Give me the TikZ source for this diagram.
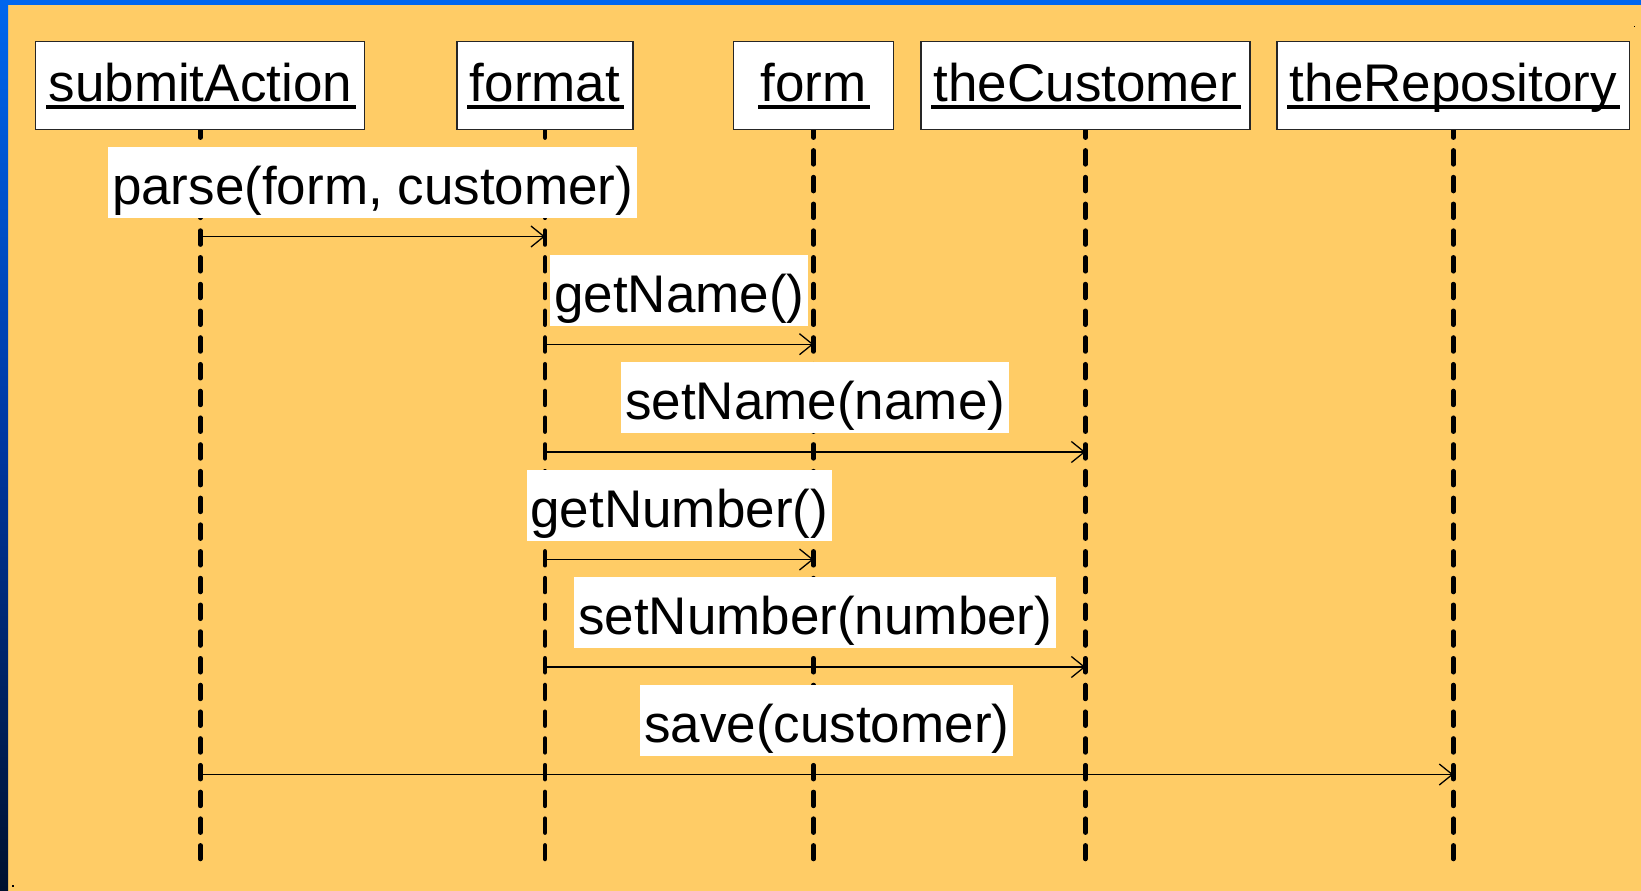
\documentclass[tikz,border=0pt]{standalone}
\usepackage{fontspec}
\setmainfont{Liberation Sans}
\usetikzlibrary{arrows.meta}

\definecolor{slidebg}{HTML}{FFCC66}
\definecolor{framehi}{HTML}{0066EE}
\definecolor{framemid}{HTML}{0036A0}
\definecolor{framelo}{HTML}{00102E}

% underlined object name, rule a little wider than the word
\newcommand\objname[1]{\setbox0\hbox{#1}\rlap{\kern-2.5pt\vrule width\dimexpr\wd0+6pt\relax height -3.8pt depth 7.5pt}\box0}

\pgfdeclarelayer{slide}
\pgfdeclarelayer{back}
\pgfsetlayers{slide,back,main}

\begin{document}
\begin{tikzpicture}[x=1pt,y=-1pt,
  font=\fontsize{53}{60}\selectfont,
  objbox/.style={draw=black!85, line width=1.3pt, fill=white, inner xsep=12.8pt,
    inner ysep=0pt, text height=60pt, text depth=28pt, anchor=base},
  msg/.style={fill=white, inner xsep=4pt, inner ysep=5pt, text height=52.5pt,
    text depth=8.5pt, anchor=south, yshift=18pt},
  lifeline/.style={line width=4.5pt, line cap=round, dash pattern=on 14pt off 12.73pt},
  call/.style={line width=1.3pt, -{Straight Barb[length=13pt,width=21pt]}}]

\useasboundingbox (0,0) rectangle (1641,891);

% slide background and frame
\begin{pgfonlayer}{slide}
\fill[slidebg] (0,0) rectangle (1641,891);
\shade[top color=framehi, bottom color=framelo, middle color=framemid] (0,0) rectangle (8,891);
\fill[framehi] (0,0) rectangle (1641,5);
\fill[black] (1633.5,26) rectangle (1635,27.5);
\fill[black] (12,885) rectangle (13.5,886.5);
\end{pgfonlayer}

% objects
\node[objbox] (sa)  at (200.3,101.7)  {\objname{submitAction}};
\node[objbox] (fmt) at (545,101.7)    {\objname{format}};
\node[objbox, inner xsep=27.3pt] (frm) at (813.5,101.7) {\objname{form}};
\node[objbox] (cus) at (1085.4,101.7) {\objname{theCustomer}};
\node[objbox] (rep) at (1453.3,101.7) {\objname{theRepository}};

% lifelines
\begin{pgfonlayer}{back}
\foreach \n in {sa,fmt,frm,cus,rep}{
  \coordinate (\n-end) at (\n.south |- 0,859);
  \draw[lifeline] ([yshift=6.7pt]\n.south) -- (\n-end);
}
\end{pgfonlayer}

% message rows
\coordinate (y1) at (0,236.5);
\coordinate (y2) at (0,344.2);
\coordinate (y3) at (0,452);
\coordinate (y4) at (0,559.5);
\coordinate (y5) at (0,667);
\coordinate (y6) at (0,774.5);

% messages
\draw[call] (sa |- y1)  -- node[msg] (m1) {parse(form, customer)} (fmt |- y1);
\draw[call] (fmt |- y2) -- node[msg] (m2) {getName()}             (frm |- y2);
\draw[call] (fmt |- y3) -- node[msg] (m3) {setName(name)}         (cus |- y3);
\draw[call] (fmt |- y4) -- node[msg] (m4) {getNumber()}           (frm |- y4);
\draw[call] (fmt |- y5) -- node[msg] (m5) {setNumber(number)}     (cus |- y5);
\draw[call] (sa |- y6)  -- node[msg] (m6) {save(customer)}        (rep |- y6);

\end{tikzpicture}
\end{document}
